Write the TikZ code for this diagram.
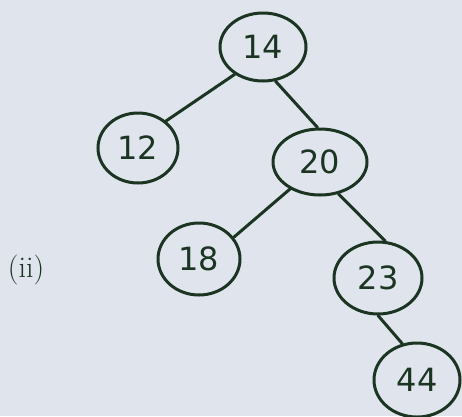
\documentclass[tikz,border=0pt]{standalone}
\usepackage{fontspec}
\newfontfamily\handfont{DejaVu Sans}
\usetikzlibrary{shapes.geometric}
\definecolor{paper}{RGB}{224,229,237}
\definecolor{ink}{RGB}{28,52,34}
\tikzset{
  treenode/.style={draw=ink, line width=3pt, ellipse, inner sep=0pt, text=ink,
    font=\handfont\fontsize{32}{32}\selectfont},
  edge/.style={draw=ink, line width=3pt, line cap=round},
  label/.style={font=\fontsize{30}{30}\selectfont, text=ink}
}
\begin{document}
\begin{tikzpicture}[x=1pt, y=-1pt]
  \fill[paper] (0,0) rectangle (462,416);
  \useasboundingbox (0,0) rectangle (462,416);
  \node[treenode, minimum width=86pt, minimum height=68pt] (n14) at (263,47) {14};
  \node[treenode, minimum width=80pt, minimum height=70pt] (n12) at (138,148) {12};
  \node[treenode, minimum width=94pt, minimum height=66pt] (n20) at (320,162) {20};
  \node[treenode, minimum width=82pt, minimum height=72pt] (n18) at (199,259) {18};
  \node[treenode, minimum width=88pt, minimum height=72pt] (n23) at (378,278) {23};
  \node[treenode, minimum width=86pt, minimum height=74pt] (n44) at (417,380) {44};
  \node[label] (lab) at (26,270) {(ii)};
  \draw[edge] (n14.224) -- (n12.44);
  \draw[edge] (n14.-70) -- (n20.94);
  \draw[edge] (n20.222) -- (n18.32);
  \draw[edge] (n20.-60) -- (n23.79);
  \draw[edge] (n23.-90) -- (n44.112);
\end{tikzpicture}
\end{document}
